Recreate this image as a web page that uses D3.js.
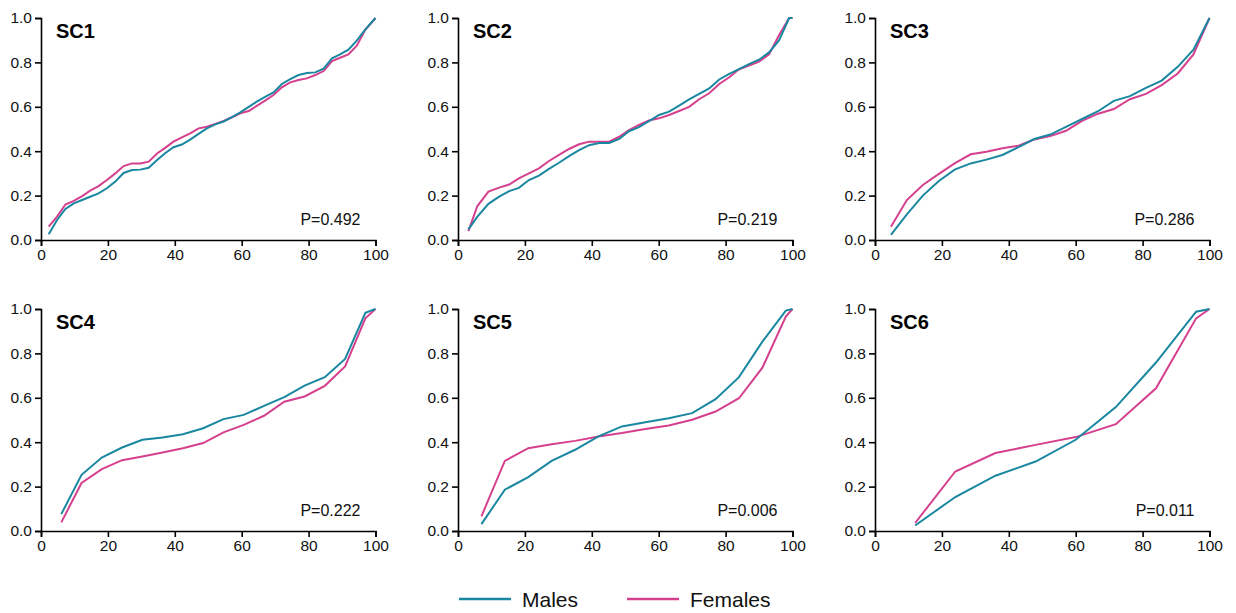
<!DOCTYPE html>
<html>
<head>
<meta charset="utf-8">
<script src="https://cdn.jsdelivr.net/npm/d3@7"></script>
<style>
  body { margin: 0; background: #fff; }
  svg { display: block; font-family: "Liberation Sans", Arial, sans-serif; }
  .axis path, .axis line { stroke: #000; stroke-width: 1.6px; }
  .axis text { font-family: "Liberation Sans", Arial, sans-serif; font-size: 15.5px; fill: #111; }
</style>
</head>
<body>
<svg width="1236" height="613"></svg>
<script>
// panel names and p values
var panelNames = ["SC1", "SC2", "SC3", "SC4", "SC5", "SC6"];
var pValues = ["P=0.492", "P=0.219", "P=0.286", "P=0.222", "P=0.006", "P=0.011"];
var xTicks = [0, 20, 40, 60, 80, 100];
var yTicks = [0, 0.2, 0.4, 0.6, 0.8, 1.0];

// x positions (percentile) for each panel
var sc1X = [2.3,4.8,7.3,9.8,12.3,14.7,17.2,19.7,22.2,24.7,27.2,29.7,32.2,34.7,37.2,39.6,42.1,44.6,47.1,49.6,52.1,54.6,57.1,59.6,62.1,64.5,67,69.5,72,74.5,77,79.5,82,84.5,87,89.4,91.9,94.4,96.9,100];
var sc1Males = [0.026,0.09,0.14,0.165,0.18,0.195,0.21,0.233,0.263,0.302,0.315,0.317,0.325,0.36,0.392,0.418,0.43,0.452,0.478,0.503,0.521,0.534,0.553,0.575,0.6,0.623,0.645,0.665,0.703,0.725,0.743,0.752,0.755,0.772,0.818,0.836,0.857,0.898,0.948,1.0];
var sc1Females = [0.06,0.105,0.16,0.176,0.198,0.222,0.243,0.27,0.3,0.333,0.345,0.345,0.353,0.39,0.416,0.443,0.462,0.48,0.503,0.51,0.523,0.536,0.553,0.571,0.581,0.604,0.628,0.653,0.688,0.71,0.721,0.728,0.743,0.761,0.806,0.821,0.836,0.875,0.946,1.0];

var sc2X = [3.1,5.8,9.1,12.3,15.3,18.2,21.2,24.2,27.2,30.2,33.2,36.2,39.2,42.2,45.2,48.2,51.1,54.1,57.1,60.1,63.1,66.1,69.1,72.1,75.1,78.1,81.1,84,87,90,93,96,99,100];
var sc2Males = [0.048,0.105,0.163,0.195,0.22,0.235,0.27,0.29,0.32,0.348,0.378,0.405,0.427,0.437,0.437,0.455,0.49,0.508,0.535,0.563,0.578,0.605,0.633,0.658,0.683,0.723,0.748,0.77,0.792,0.812,0.845,0.9,1.0,1.0];
var sc2Females = [0.04,0.153,0.218,0.236,0.25,0.278,0.3,0.323,0.356,0.383,0.41,0.431,0.443,0.443,0.443,0.465,0.495,0.518,0.538,0.548,0.563,0.581,0.6,0.634,0.661,0.703,0.733,0.769,0.786,0.803,0.836,0.923,1.0,1.0];

var sc3X = [4.76,9.52,14.3,19,23.8,28.6,33.3,38.1,42.9,47.6,52.4,57.1,61.9,66.7,71.4,76.2,81,85.7,90.5,95.2,100];
var sc3Males = [0.023,0.115,0.2,0.265,0.317,0.345,0.362,0.383,0.418,0.455,0.475,0.51,0.545,0.58,0.627,0.648,0.685,0.718,0.78,0.857,1.0];
var sc3Females = [0.06,0.18,0.248,0.297,0.345,0.386,0.398,0.413,0.425,0.453,0.468,0.492,0.537,0.569,0.59,0.634,0.658,0.698,0.75,0.836,1.0];

var sc4X = [6.06,12.12,18.18,24.24,30.3,36.36,42.42,48.48,54.55,60.61,66.67,72.73,78.79,84.85,90.91,96.97,100];
var sc4Males = [0.076,0.253,0.331,0.376,0.411,0.421,0.436,0.463,0.504,0.523,0.564,0.603,0.655,0.693,0.775,0.983,1.0];
var sc4Females = [0.039,0.216,0.279,0.319,0.336,0.354,0.373,0.396,0.444,0.478,0.519,0.582,0.606,0.654,0.741,0.958,1.0];

var sc5X = [7,14,21,28,35,42,49,56,63,70,77,84,91,98,100];
var sc5Males = [0.031,0.186,0.243,0.316,0.366,0.426,0.471,0.49,0.508,0.531,0.594,0.693,0.853,0.993,1.0];
var sc5Females = [0.066,0.316,0.373,0.391,0.406,0.426,0.441,0.459,0.475,0.501,0.538,0.598,0.736,0.966,1.0];

var sc6X = [12,24,36,48,60,72,84,96,100];
var sc6Males = [0.025,0.153,0.249,0.313,0.411,0.558,0.759,0.988,1.0];
var sc6Females = [0.036,0.268,0.351,0.388,0.423,0.481,0.643,0.958,1.0];

var allX = [sc1X, sc2X, sc3X, sc4X, sc5X, sc6X];
var allMales = [sc1Males, sc2Males, sc3Males, sc4Males, sc5Males, sc6Males];
var allFemales = [sc1Females, sc2Females, sc3Females, sc4Females, sc5Females, sc6Females];

var maleColor = "#1a87a0";
var femaleColor = "#d5408e";

var svg = d3.select("svg");

var colLeft = [41, 458, 875];
var rowTop = [18, 309];
var pw = 334.5, ph = 222;

function drawPanel(i) {
    var ox = colLeft[i % 3];
    var oy = rowTop[Math.floor(i / 3)];
    var g = svg.append("g").attr("transform", "translate(" + ox + "," + oy + ")");

    var x = d3.scaleLinear().domain([0, 100]).range([0, pw]);
    var y = d3.scaleLinear().domain([0, 1]).range([ph, 0]);

    g.append("g").attr("class", "axis")
        .attr("transform", "translate(0," + ph + ")")
        .call(d3.axisBottom(x).tickValues(xTicks).tickSizeOuter(0).tickSize(6).tickPadding(3));
    g.append("g").attr("class", "axis")
        .call(d3.axisLeft(y).tickValues(yTicks).tickFormat(d3.format(".1f")).tickSizeOuter(0).tickSize(6).tickPadding(3));

    var xs = allX[i];
    var line = d3.line()
        .x(function(d, j) { return x(xs[j]); })
        .y(function(d) { return y(d); });

    g.append("path").datum(allFemales[i])
        .attr("d", line)
        .attr("fill", "none")
        .attr("stroke", femaleColor)
        .attr("stroke-width", 2);
    g.append("path").datum(allMales[i])
        .attr("d", line)
        .attr("fill", "none")
        .attr("stroke", maleColor)
        .attr("stroke-width", 2);

    g.append("text")
        .attr("x", 15).attr("y", 20)
        .style("font-size", "20px").style("font-weight", "bold")
        .text(panelNames[i]);

    g.append("text")
        .attr("x", pw - 15).attr("y", ph - 15)
        .attr("text-anchor", "end")
        .style("font-size", "16px").attr("fill", "#111")
        .text(pValues[i]);
}

for (var i = 0; i < 6; i++) drawPanel(i);

// legend
var legend = [
    { name: "Males", color: maleColor, x: 459 },
    { name: "Females", color: femaleColor, x: 627 }
];
var lg = svg.selectAll(".legend").data(legend).enter().append("g")
    .attr("class", "legend")
    .attr("transform", function(d) { return "translate(" + d.x + ",599)"; });
lg.append("line")
    .attr("x1", 0).attr("x2", 52)
    .attr("stroke", function(d) { return d.color; })
    .attr("stroke-width", 2.5);
lg.append("text")
    .attr("x", 63).attr("y", 8)
    .style("font-size", "21px").attr("fill", "#111")
    .text(function(d) { return d.name; });
</script>
</body>
</html>
